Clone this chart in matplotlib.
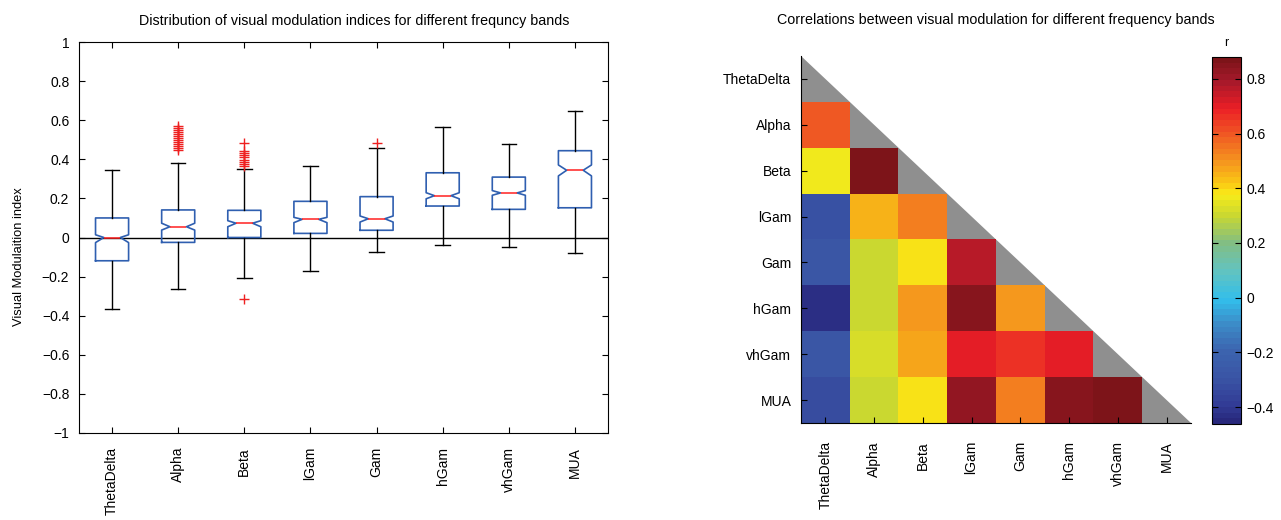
import matplotlib as mpl
mpl.use('Agg')
import numpy as np
import matplotlib.pyplot as plt
from matplotlib.patches import Polygon
from matplotlib.colors import LinearSegmentedColormap

plt.rcParams['font.family'] = ['Liberation Sans', 'DejaVu Sans']
plt.rcParams['font.size'] = 10

bands = ['ThetaDelta', 'Alpha', 'Beta', 'lGam', 'Gam', 'hGam', 'vhGam', 'MUA']

# box statistics
med = [0.00, 0.055, 0.073, 0.093, 0.096, 0.214, 0.228, 0.344]
q1 = [-0.119, -0.025, 0.0, 0.021, 0.037, 0.161, 0.144, 0.152]
q3 = [0.10, 0.141, 0.139, 0.185, 0.209, 0.331, 0.309, 0.444]
whislo = [-0.364, -0.262, -0.206, -0.17, -0.074, -0.037, -0.05, -0.078]
whishi = [0.345, 0.38, 0.352, 0.367, 0.459, 0.567, 0.478, 0.647]
cilo = [-0.026, 0.038, 0.055, 0.076, 0.079, 0.198, 0.216, 0.315]
cihi = [0.014, 0.073, 0.086, 0.103, 0.11, 0.229, 0.24, 0.371]
fliers = [
    [],
    [0.45, 0.46, 0.47, 0.48, 0.49, 0.50, 0.51, 0.52, 0.53, 0.54, 0.55, 0.56, 0.57],
    [-0.316, 0.365, 0.375, 0.385, 0.395, 0.41, 0.42, 0.43, 0.44, 0.485],
    [],
    [0.482],
    [],
    [],
    [],
]

# lower triangle of the correlation matrix (row i, col j<i)
corr_rows = [
    [],
    [0.60],
    [0.37, 0.88],
    [-0.30, 0.45, 0.53],
    [-0.28, 0.30, 0.38, 0.76],
    [-0.44, 0.30, 0.50, 0.85, 0.50],
    [-0.28, 0.32, 0.47, 0.70, 0.66, 0.70],
    [-0.32, 0.30, 0.38, 0.82, 0.54, 0.85, 0.88],
]
vmin, vmax = -0.462, 0.88

# colour ramp sampled from the reference colour bar (value, colour)
ramp = [(-0.462, '#28287c'), (-0.4, '#323c96'), (-0.3, '#3a55a5'),
        (-0.2, '#3c64af'), (-0.1, '#3c8cc8'), (-0.01, '#32beeb'),
        (0.1, '#64c3be'), (0.2, '#82be82'), (0.3, '#c8d732'),
        (0.38, '#f8ec19'), (0.42, '#fac814'), (0.5, '#f5961e'),
        (0.6, '#f05a23'), (0.7, '#eb1e26'), (0.8, '#a5192a'), (0.88, '#7d1419')]
cmap = LinearSegmentedColormap.from_list(
    'ref', [((v - vmin) / (vmax - vmin), c) for v, c in ramp], N=64)

fig = plt.figure(figsize=(12.81, 5.2), dpi=100)

# ---- left: notched boxplots
ax = fig.add_axes([79 / 1281, 87 / 520, 529 / 1281, 391 / 520])
stats = []
for i in range(len(bands)):
    stats.append(dict(med=med[i], q1=q1[i], q3=q3[i], whislo=whislo[i],
                      whishi=whishi[i], cilo=cilo[i], cihi=cihi[i],
                      fliers=fliers[i], label=bands[i]))
blue = '#2f5fb0'
ax.bxp(stats, positions=range(1, 9), widths=0.5, shownotches=True,
       boxprops=dict(color=blue, linewidth=1.2),
       whiskerprops=dict(color='black', linewidth=1.0),
       capprops=dict(color='black', linewidth=1.0),
       medianprops=dict(color='#ff2020', linewidth=1.1),
       flierprops=dict(marker='+', markeredgecolor='#ee2020', markersize=7,
                       linestyle='none'),
       capwidths=0.22)
ax.axhline(0, color='black', linewidth=1.0, zorder=0)
ax.set_xlim(0.5, 8.5)
ax.set_ylim(-1, 1)
ax.set_yticks(np.arange(-1, 1.01, 0.2))
ax.set_yticklabels(['\u22121', '\u22120.8', '\u22120.6', '\u22120.4', '\u22120.2',
                    '0', '0.2', '0.4', '0.6', '0.8', '1'])
ax.set_xticks(range(1, 9))
ax.set_xticklabels(bands, rotation=90)
ax.tick_params(direction='in', top=True, right=True, length=4)
ax.tick_params(axis='x', pad=10)
ax.tick_params(axis='y', pad=7)
ax.set_ylabel('Visual Modulaition index', fontsize=9.3)
ax.yaxis.set_label_coords(-0.103, 0.45)
ax.set_title('Distribution of visual modulation indices for different frequncy bands',
             fontsize=10.3, pad=12.5, x=0.52)

# ---- right: correlation heatmap
n = len(bands)
mat = np.full((n, n), np.nan)
for i, row in enumerate(corr_rows):
    for j, v in enumerate(row):
        mat[i, j] = v
mat = np.ma.masked_invalid(mat)

ax2 = fig.add_axes([801 / 1281, 97 / 520, 390 / 1281, 367 / 520])
tri = Polygon([[-0.5, -0.5], [7.5, 7.5], [-0.5, 7.5]], closed=True,
              facecolor='#8f8f8f', edgecolor='none', zorder=0)
ax2.add_patch(tri)
im = ax2.imshow(mat, cmap=cmap, vmin=vmin, vmax=vmax, aspect='auto',
                interpolation='nearest', zorder=1)
ax2.set_xlim(-0.5, 7.5)
ax2.set_ylim(7.5, -0.5)
ax2.set_xticks(range(n))
ax2.set_xticklabels(bands, rotation=90)
ax2.set_yticks(range(n))
ax2.set_yticklabels(bands)
ax2.spines['top'].set_visible(False)
ax2.spines['right'].set_visible(False)
ax2.tick_params(direction='in', length=4)
ax2.tick_params(axis='x', pad=13)
ax2.tick_params(axis='y', pad=7)
ax2.set_title('Correlations between visual modulation for different frequency bands',
              fontsize=10.3, pad=23)

cax = fig.add_axes([1212 / 1281, 96 / 520, 29 / 1281, 367 / 520])
cb = fig.colorbar(im, cax=cax)
cb.set_ticks([-0.4, -0.2, 0, 0.2, 0.4, 0.6, 0.8])
cb.set_ticklabels(['\u22120.4', '\u22120.2', '0', '0.2', '0.4', '0.6', '0.8'])
cax.tick_params(direction='in', length=4, left=True, right=True, pad=4)
cax.set_title('r', fontsize=9, pad=8)

fig.savefig('out.png', dpi=100)
